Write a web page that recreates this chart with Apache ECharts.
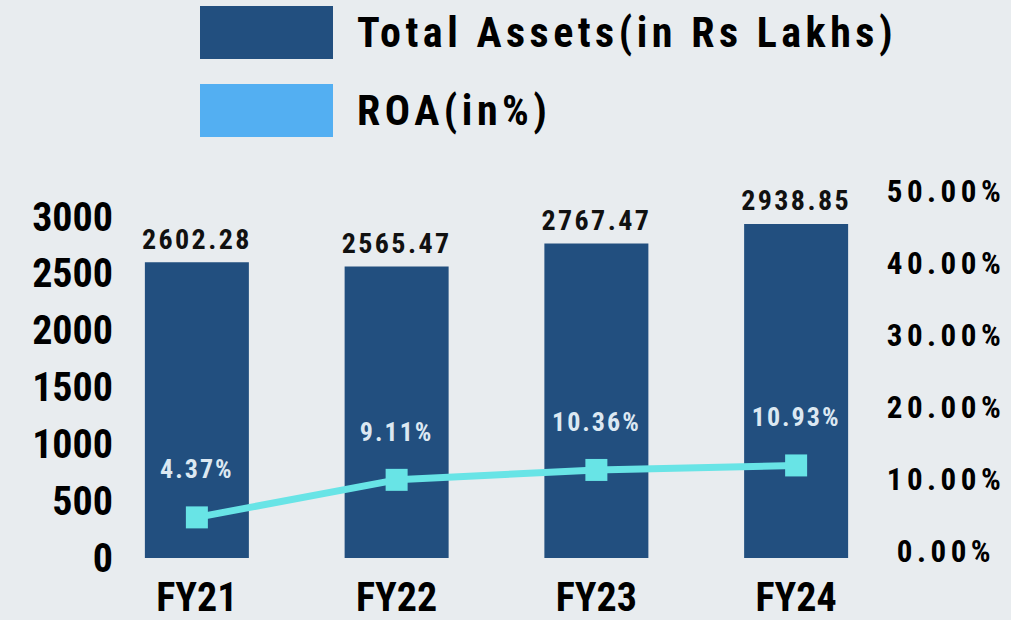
<!DOCTYPE html>
<html>
<head>
<meta charset="utf-8">
<script src="https://cdn.jsdelivr.net/npm/echarts@6/dist/echarts.min.js"></script>
<style>
  html, body { margin: 0; padding: 0; background: #e8ecef; }
  #chart { width: 1011px; height: 620px; }
  /* the picture uses a spaced-out condensed face */
  #chart text[style*="42px"] { letter-spacing: 4.5px; }
  #chart text[style*="31px"] { letter-spacing: 4.5px; }
  #chart text[style*="28px"] { letter-spacing: 2.4px; }
  #chart text[style*="26px"] { letter-spacing: 2px; }
</style>
</head>
<body>
<div id="chart"></div>
<script>
const years = ['FY21', 'FY22', 'FY23', 'FY24']
const totalAssets = [2602.28, 2565.47, 2767.47, 2938.85]
const roa = [4.37, 9.11, 10.36, 10.93]

const font = '"Roboto Condensed", "Liberation Sans Narrow", Roboto, sans-serif'

let myChart = echarts.init(document.getElementById('chart'), null, { renderer: 'svg' })

myChart.setOption({
  backgroundColor: '#e8ecef',
  textStyle: { fontFamily: font },
  legend: {
    orient: 'vertical',
    left: 200,
    top: 6,
    padding: 0,
    icon: 'rect',
    itemWidth: 133,
    itemHeight: 53,
    itemGap: 25,
    textStyle: { fontSize: 42, fontWeight: 'bold', color: '#000', padding: [0, 0, 0, 19], fontFamily: font },
    data: [
      { name: 'Total Assets(in Rs Lakhs)', itemStyle: { color: '#224f7f' } },
      { name: 'ROA(in%)', itemStyle: { color: '#53aff2' } },
    ],
  },
  grid: [
    { left: 97, right: 115, top: 217, bottom: 62 },
    { left: 97, right: 115, top: 191, bottom: 69 },
    { left: 97, right: 115, top: 156, bottom: 68 },
  ],
  xAxis: [
    {
      type: 'category',
      gridIndex: 0,
      data: years,
      axisLine: { show: false },
      axisTick: { show: false },
      axisLabel: { fontSize: 40, lineHeight: 34, fontWeight: 'bold', color: '#000', margin: 22, fontFamily: font },
    },
    { type: 'category', gridIndex: 1, data: years, show: false },
    { type: 'category', gridIndex: 2, data: years, show: false },
  ],
  yAxis: [
    {
      type: 'value',
      gridIndex: 0,
      min: 0,
      max: 3000,
      interval: 500,
      splitLine: { show: false },
      axisLabel: {
        fontSize: 40, fontWeight: 'bold', color: '#000', margin: -16, fontFamily: font,
        formatter: (v) => String(v),
      },
    },
    {
      type: 'value',
      gridIndex: 1,
      position: 'right',
      min: 0,
      max: 50,
      interval: 10,
      splitLine: { show: false },
      axisLabel: {
        fontSize: 31, fontWeight: 'bold', color: '#000', margin: 50, align: 'center', fontFamily: font,
        formatter: (v) => v.toFixed(2) + '%',
      },
    },
    { type: 'value', gridIndex: 2, min: 0, max: 50, show: false },
  ],
  series: [
    {
      name: 'Total Assets(in Rs Lakhs)',
      type: 'bar',
      xAxisIndex: 0,
      yAxisIndex: 0,
      data: totalAssets,
      barWidth: 104,
      itemStyle: { color: '#224f7f' },
      label: {
        show: true,
        position: 'top',
        distance: 9,
        fontSize: 28,
        fontWeight: 'bold',
        color: '#111',
        fontFamily: font,
        formatter: (p) => p.value.toFixed(2),
      },
    },
    {
      name: 'ROA(in%)',
      type: 'line',
      xAxisIndex: 2,
      yAxisIndex: 2,
      data: roa,
      smooth: false,
      symbol: 'rect',
      symbolSize: 22,
      lineStyle: { color: '#68e4e6', width: 7 },
      itemStyle: { color: '#68e4e6' },
      label: {
        show: true,
        position: 'top',
        distance: 24,
        fontSize: 26,
        fontWeight: 'bold',
        color: '#dce8f2',
        fontFamily: font,
        formatter: (p) => p.value.toFixed(2) + '%',
      },
    },
  ],
})
</script>
</body>
</html>
